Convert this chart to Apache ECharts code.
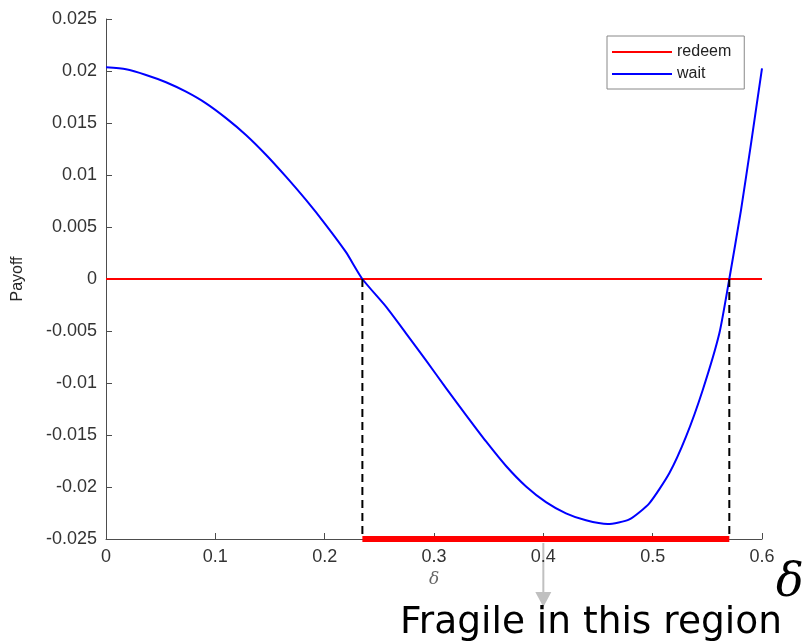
<!DOCTYPE html>
<html>
<head>
<meta charset="utf-8">
<script src="https://cdn.jsdelivr.net/npm/echarts@6/dist/echarts.min.js"></script>
<style>
  html, body { margin: 0; padding: 0; background: #fff; }
  #chart { width: 809px; height: 644px; }
</style>
</head>
<body>
<div id="chart"></div>
<script>
// δ values, with the "wait" payoff at each
var deltaValues = [0, 0.0183, 0.0366, 0.0549, 0.0732, 0.0915, 0.1098, 0.128, 0.1463, 0.1646, 0.1829, 0.2012, 0.2195, 0.2345,
    0.2561, 0.2744, 0.2927, 0.311, 0.3293, 0.3476, 0.3659, 0.3842, 0.4024, 0.4207, 0.439, 0.4589,
    0.4787, 0.4969, 0.5152, 0.5305, 0.5458, 0.561, 0.5701, 0.5808, 0.59, 0.6];
var waitValues = [0.02035, 0.02016, 0.01962, 0.01892, 0.01801, 0.01689, 0.01547, 0.01385, 0.01195, 0.00984, 0.0076, 0.00519, 0.00258, 0,
    -0.00266, -0.00522, -0.00782, -0.01049, -0.01308, -0.01562, -0.01798, -0.01995, -0.02145, -0.02253, -0.02320, -0.02356,
    -0.02312, -0.02157, -0.01868, -0.01516, -0.01067, -0.00522, 0, 0.00663, 0.01305, 0.02026];
var redeemDelta = [0, 0.6];
var redeemValues = [0, 0];
// crossings where the fragile region starts and ends
var crossings = [0.2345, 0.5701];
var arrowDelta = 0.4;
var xTicks = ['0', '0.1', '0.2', '0.3', '0.4', '0.5', '0.6'];
var yTicks = ['-0.025', '-0.02', '-0.015', '-0.01', '-0.005', '0', '0.005', '0.01', '0.015', '0.02', '0.025'];

var chart = echarts.init(document.getElementById('chart'));

var waitData = deltaValues.map(function (d, i) { return [d, waitValues[i]]; });
var redeemData = redeemDelta.map(function (d, i) { return [d, redeemValues[i]]; });

var axisColor = '#4d4d4d';
var labelFont = { color: '#333', fontSize: 18, fontFamily: 'Liberation Sans, Arial, sans-serif' };

var option = {
    animation: false,
    grid: { left: 106, right: 47, top: 19, bottom: 105 },
    legend: {
        orient: 'vertical',
        left: 607,
        top: 36,
        padding: [8, 13, 7, 5],
        itemGap: 6,
        itemWidth: 60,
        itemHeight: 2,
        icon: 'rect',
        backgroundColor: '#fff',
        borderColor: '#888',
        borderWidth: 1,
        borderRadius: 0,
        textStyle: { color: '#222', fontSize: 16, fontFamily: 'Liberation Sans, Arial, sans-serif' },
        data: ['redeem', 'wait']
    },
    xAxis: {
        type: 'value',
        min: 0,
        max: 0.6,
        interval: 0.1,
        name: 'δ',
        nameLocation: 'middle',
        nameGap: 32,
        nameTextStyle: { color: '#666', fontSize: 17, fontStyle: 'italic', fontFamily: 'DejaVu Serif, serif' },
        axisLine: { onZero: false, lineStyle: { color: axisColor, width: 1 } },
        axisTick: { inside: true, length: 6, lineStyle: { color: axisColor } },
        axisLabel: Object.assign({ margin: 9, formatter: function (v) { return xTicks[Math.round(v * 10)]; } }, labelFont),
        splitLine: { show: false }
    },
    yAxis: {
        type: 'value',
        min: -0.025,
        max: 0.025,
        interval: 0.005,
        name: 'Payoff',
        nameLocation: 'middle',
        nameGap: 80,
        nameTextStyle: { color: '#262626', fontSize: 16, fontFamily: 'Liberation Sans, Arial, sans-serif' },
        axisLine: { show: true, onZero: false, lineStyle: { color: axisColor, width: 1 } },
        axisTick: { show: true, inside: true, length: 6, lineStyle: { color: axisColor } },
        axisLabel: Object.assign({ margin: 9, formatter: function (v) { return yTicks[Math.round((v + 0.025) / 0.005)]; } }, labelFont),
        splitLine: { show: false }
    },
    series: [
        {
            name: 'redeem',
            type: 'line',
            data: redeemData,
            showSymbol: false,
            color: '#ff0000',
            lineStyle: { color: '#ff0000', width: 2 }
        },
        {
            name: 'wait',
            type: 'line',
            data: waitData,
            smooth: 0.2,
            showSymbol: false,
            color: '#0000ff',
            lineStyle: { color: '#0000ff', width: 2, join: 'round' }
        },
        {
            name: 'cross1',
            type: 'line',
            data: [[crossings[0], 0], [crossings[0], -0.025]],
            showSymbol: false,
            lineStyle: { color: '#000', width: 2, type: [8, 5] }
        },
        {
            name: 'cross2',
            type: 'line',
            data: [[crossings[1], 0], [crossings[1], -0.025]],
            showSymbol: false,
            lineStyle: { color: '#000', width: 2, type: [8, 5] }
        },
        {
            name: 'fragile',
            type: 'line',
            data: [[crossings[0], -0.025], [crossings[1], -0.025]],
            showSymbol: false,
            clip: false,
            z: 5,
            lineStyle: { color: '#ff0000', width: 6, cap: 'butt' }
        }
    ]
};

chart.setOption(option);

// annotations below the axis: arrow, caption and the big δ
var ax = chart.convertToPixel({ gridIndex: 0 }, [arrowDelta, -0.025]);
var right = chart.convertToPixel({ gridIndex: 0 }, [0.6, -0.025]);
chart.setOption({
    graphic: [
        {
            type: 'line',
            shape: { x1: ax[0], y1: ax[1] + 4, x2: ax[0], y2: ax[1] + 56 },
            style: { stroke: '#c0c0c0', lineWidth: 2 }
        },
        {
            type: 'polygon',
            shape: { points: [[ax[0] - 8, ax[1] + 53], [ax[0] + 8, ax[1] + 53], [ax[0], ax[1] + 68]] },
            style: { fill: '#c0c0c0' }
        },
        {
            type: 'text',
            left: 400,
            top: 604,
            style: { text: 'Fragile in this region', fill: '#000', font: '37.5px "DejaVu Sans", Verdana, sans-serif' }
        },
        {
            type: 'text',
            left: right[0] + 14,
            top: right[1] + 22,
            style: { text: 'δ', fill: '#000', font: 'italic 46px "DejaVu Serif", serif' }
        }
    ]
});
</script>
</body>
</html>
